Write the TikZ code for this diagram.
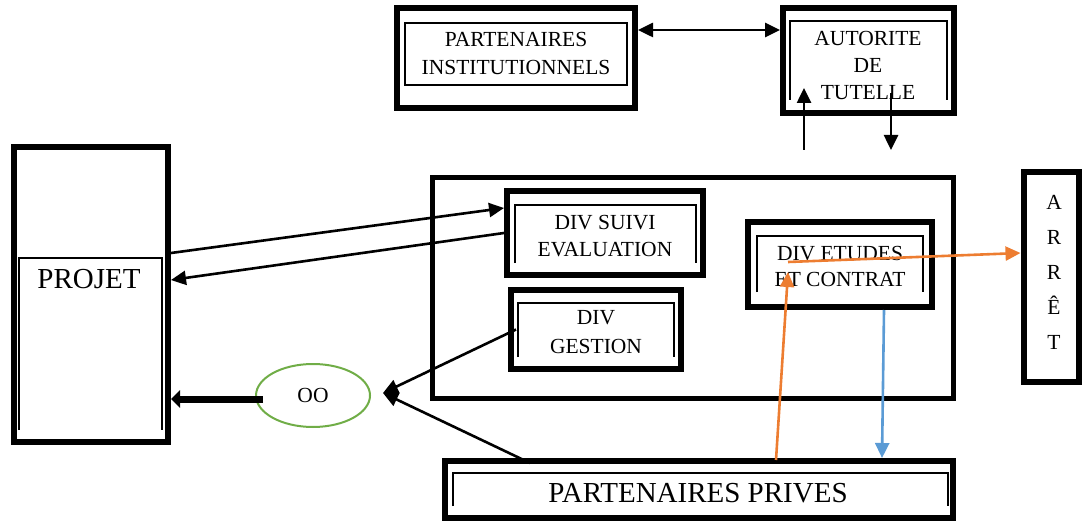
\documentclass[tikz,border=0pt]{standalone}
\usepackage{fontspec}
\setmainfont{Liberation Serif}
\usetikzlibrary{arrows.meta,calc,shapes.geometric}
\definecolor{orng}{HTML}{ED7D31}
\definecolor{blu}{HTML}{5B9BD5}
\definecolor{grn}{HTML}{70AD47}
\tikzset{
  outerbox/.style={draw, line width=6pt, inner sep=0pt},
  innerln/.style={line width=2pt},
  lbl/.style={font=\fontsize{21.5}{28}\selectfont, align=center, inner sep=0pt},
  biglbl/.style={font=\fontsize{29}{34}\selectfont, align=center, inner sep=0pt},
  conn/.style={line width=2.6pt, -{Triangle[length=15pt,width=14pt]}},
  dconn/.style={line width=2.6pt, {Triangle[length=15pt,width=14pt]}-{Triangle[length=15pt,width=14pt]}},
}
\begin{document}
\begin{tikzpicture}[x=1pt,y=-1pt]
\useasboundingbox (0,0) rectangle (1083,521);

% outer boxes
\node[outerbox, minimum width=238pt, minimum height=100pt] (pi) at (516,58) {};
\node[outerbox, minimum width=171pt, minimum height=105pt] (at) at (868.5,60.5) {};
\node[outerbox, line width=5pt, minimum width=521pt, minimum height=220pt] (main) at (692.5,288) {};
\node[outerbox, minimum width=196pt, minimum height=84pt] (dse) at (605,233) {};
\node[outerbox, minimum width=170pt, minimum height=79pt] (dg) at (596,329.5) {};
\node[outerbox, minimum width=184pt, minimum height=85pt] (dec) at (840,264.5) {};
\node[outerbox, minimum width=55pt, minimum height=210pt] (arr) at (1051,277) {};
\node[outerbox, minimum width=154pt, minimum height=295pt] (proj) at (91,294.5) {};
\node[outerbox, minimum width=508pt, minimum height=57pt] (pp) at (699,489.5) {};

% inner lines
\draw[innerln] (405,23) rectangle (627,85);
\draw[innerln] (790,100) -- (790,21) -- (947,21) -- (947,100);
\draw[innerln] (515,263) -- (515,205) -- (696,205) -- (696,263);
\draw[innerln] (518,357) -- (518,303) -- (674,303) -- (674,357);
\draw[innerln] (757,292) -- (757,236) -- (923,236) -- (923,292);
\draw[innerln] (19,430) -- (19,258) -- (162,258) -- (162,430);
\draw[innerln] (453,506) -- (453,473) -- (948,473) -- (948,506);

% texts
\node[lbl] (pit) at (516,53) {PARTENAIRES\\INSTITUTIONNELS};
\node[lbl, font=\fontsize{21.5}{27}\selectfont] (att) at (868,65) {AUTORITE\\DE\\TUTELLE};
\node[lbl, font=\fontsize{21.5}{27}\selectfont] (dset) at (605,236) {DIV SUIVI\\EVALUATION};
\node[lbl, font=\fontsize{21.5}{29}\selectfont] (dgt) at (596,332.5) {DIV\\GESTION};
\node[lbl, font=\fontsize{21.5}{26}\selectfont] (dect) at (840,266) {DIV ETUDES\\ET CONTRAT};
\node[lbl, font=\fontsize{21.5}{35}\selectfont] (arrt) at (1054,272) {A\\R\\R\\Ê\\T};
\node[biglbl] (projt) at (89,279) {PROJET};
\node[biglbl] (ppt) at (698,493) {PARTENAIRES PRIVES};

\node[draw=grn, line width=2pt, ellipse, minimum width=114pt, minimum height=63pt, inner sep=0pt, font=\fontsize{21.5}{25}\selectfont] (oo) at (313,395.5) {OO};

% free-end coordinates
\coordinate (u1) at (804,150);
\coordinate (u2) at (804,88);
\coordinate (d1) at (891,93);
\coordinate (d2) at (891,150);
\coordinate (star) at (383,393);
\coordinate (o1) at (788,272);
\coordinate (o2) at (788,262);

% connectors
\draw[dconn] ([yshift=28pt]pi.east) -- ([yshift=30.5pt]at.west);
\draw[conn] (u1) -- (u2);
\draw[conn] (d1) -- (d2);
\draw[conn] ([yshift=41.5pt]proj.east) -- ([yshift=25pt]dse.west);
\draw[conn] (dse.west) -- ([yshift=14.5pt]proj.east);
\draw[conn] ([xshift=8pt]dg.west) -- (star);
\draw[conn] ([xshift=-169pt,yshift=-5pt]pp.north) -- (star);
\draw[line width=7pt, -{Triangle[length=9pt,width=17pt]}] ([xshift=8pt,yshift=-3.5pt]oo.west) -- ([yshift=-104.5pt]proj.east);
\draw[conn, orng] ([xshift=77pt,yshift=-2pt]pp.north) -- (o1);
\draw[conn, orng] (o2) -- ([yshift=24pt]arr.west);
\draw[conn, blu] ([xshift=44pt]dec.south) -- ([xshift=183pt]pp.north);
\end{tikzpicture}
\end{document}
